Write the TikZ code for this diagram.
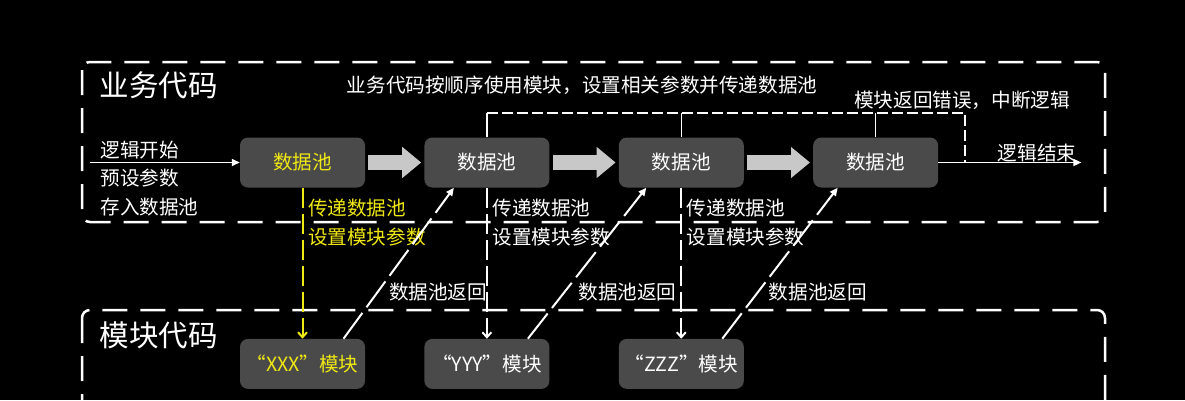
\documentclass[tikz,border=0pt]{standalone}
\usepackage{fontspec}
\setmainfont{Noto Sans CJK SC}
\usetikzlibrary{arrows.meta, positioning, calc}
\definecolor{poolgray}{RGB}{74,74,74}
\definecolor{fatgray}{RGB}{200,200,200}
\definecolor{hlyellow}{RGB}{240,232,20}

\begin{document}
\begin{tikzpicture}
            [x=1pt, y=-1pt, node distance=59pt, text=white, font=\fontsize{19.6}{28.5}\selectfont,
            pool/.style={rectangle, rounded corners=8pt, fill=poolgray, minimum width=125pt, minimum height=50pt},
            area/.style={draw=white, line width=2.5pt, dash pattern=on 25pt off 13pt, rounded corners=8pt},
            fat/.style={draw=fatgray, line width=15pt, -{Triangle[length=19pt,width=30pt]}, shorten <=3pt, shorten >=3pt},
            flow/.style={draw=white, line width=1.5pt, -{Triangle[length=8pt,width=7pt]}},
            pass/.style={line width=2pt, dash pattern=on 20pt off 6pt, -{Straight Barb[length=5pt,width=9pt]}},
            back/.style={draw=white, line width=2pt, dash pattern=on 32pt off 7pt, -{Triangle[length=8pt,width=7pt]}},
            errline/.style={draw=white, line width=1.2pt},
            header/.style={anchor=west, font=\fontsize{29.5}{34}\selectfont}]
            \fill[black] (0,0) rectangle (1185,400);
            \clip (0,0) rectangle (1185,400);
            \draw[area] (82,62) rectangle (1105,222);
            \draw[area] (82,310) rectangle (1105,440);
            \node[header] (biz) at (96,85) {业务代码};
            \node[header] (mod) at (96,335) {模块代码};
            \node (plan) at (582,85) {业务代码按顺序使用模块，设置相关参数并传递数据池};

            \node[pool, text=hlyellow]          (p1) at (302.5,162.5) {数据池};
            \node[pool, right=of p1]            (p2) {数据池};
            \node[pool, right=69pt of p2]       (p3) {数据池};
            \node[pool, right=69pt of p3]       (p4) {数据池};
            \node[pool, below=151pt of p1, text=hlyellow] (m1) {“XXX”模块};
            \node[pool, below=151pt of p2]      (m2) {“YYY”模块};
            \node[pool, below=151pt of p3]      (m3) {“ZZZ”模块};

            \draw[fat] (p1) -- (p2);
            \draw[fat] (p2) -- (p3);
            \draw[fat] (p3) -- (p4);

            \coordinate (begin) at ($(p1.west)+(-150,0)$);
            \coordinate (finish) at ($(p4.east)+(143,0)$);
            \draw[flow] (begin) -- (p1.west);
            \draw[flow] (p4.east) -- (finish);
            \node[anchor=west, align=left] (init) at (97,178.5) {逻辑开始\\预设参数\\存入数据池};
            \node[anchor=south east, inner sep=0pt] (done) at ([xshift=-5pt]finish) {逻辑结束};

            \coordinate (errl) at (p2.north |- 0,113);
            \coordinate (errr) at (965,113);
            \coordinate (errd) at (errr |- finish);
            \draw[errline] (p2.north) -- (errl);
            \draw[errline] (p3.north) -- (p3.north |- errl);
            \draw[errline] (p4.north) -- (p4.north |- errl);
            \draw[errline, dash pattern=on 11pt off 4pt] (errl) -- (errr) -- (errd);
            \node[anchor=south] (err) at ([xshift=-3pt]errr) {模块返回错误，中断逻辑};

            \draw[pass, draw=hlyellow] (p1) -- (m1);
            \draw[pass, draw=white] (p2) -- (m2);
            \draw[pass, draw=white] (p3) -- (m3);
            \node[anchor=west, align=left, text=hlyellow] (set1) at ([xshift=2pt,yshift=-35pt]p1.south) {传递数据池\\设置模块参数};
            \node[anchor=west, align=left] (set2) at ([xshift=2pt,yshift=-35pt]p2.south) {传递数据池\\设置模块参数};
            \node[anchor=west, align=left] (set3) at ([xshift=2pt,yshift=-35pt]p3.south) {传递数据池\\设置模块参数};

            \draw[back] ([xshift=41pt]m1.north) -- ([xshift=-33pt]p2.south);
            \draw[back] ([xshift=41pt]m2.north) -- ([xshift=-35pt]p3.south);
            \draw[back] ([xshift=41pt]m3.north) -- ([xshift=-38pt]p4.south);
            \node[anchor=west] (ret1) at ([xshift=83pt,yshift=47pt]m1.north) {数据池返回};
            \node[anchor=west] (ret2) at ([xshift=88pt,yshift=47pt]m2.north) {数据池返回};
            \node[anchor=west] (ret3) at ([xshift=84pt,yshift=47pt]m3.north) {数据池返回};
        \end{tikzpicture}
\end{document}
